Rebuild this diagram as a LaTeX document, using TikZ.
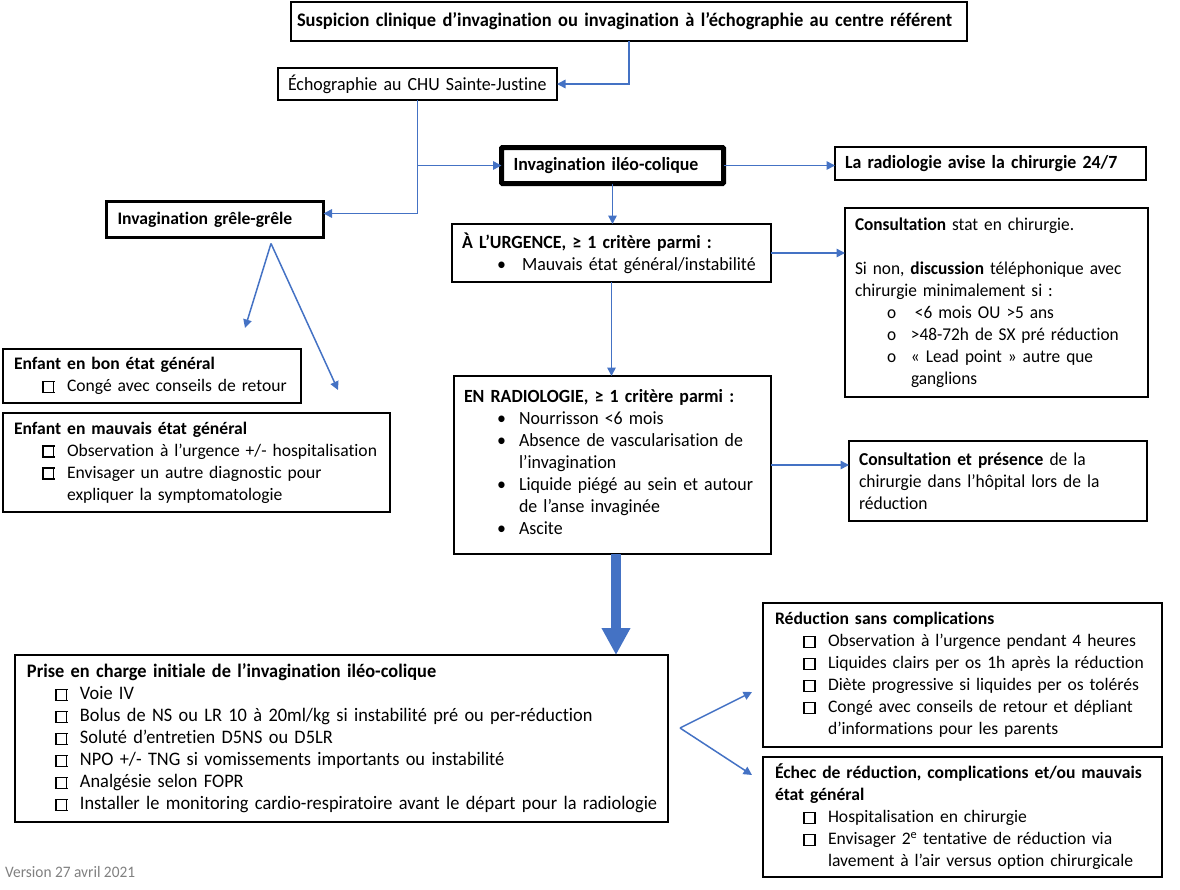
\documentclass[tikz,border=0pt]{standalone}
\usepackage{fontspec}
\setmainfont[Ligatures=NoCommon]{Carlito}
\newfontfamily\narrow[FakeStretch=0.96,Ligatures=NoCommon]{Carlito}
\usetikzlibrary{arrows.meta}
\usetikzlibrary{positioning}
\definecolor{flow}{HTML}{4472C4}

\newcommand{\chkbox}{{\setlength\fboxsep{0pt}\setlength\fboxrule{1.5pt}\fbox{\rule{0pt}{9.5pt}\hspace{9.5pt}}}}
\newcommand{\chk}{\hspace*{28pt}\makebox[25pt][l]{\chkbox}}
\newcommand{\ccont}{\hspace*{53pt}}
\newcommand{\bul}{\hspace*{33pt}\makebox[22pt][l]{\textbullet}}
\newcommand{\bcont}{\hspace*{55pt}}
\newcommand{\sub}{\hspace*{32pt}\makebox[24pt][l]{o}}

\begin{document}
\begin{tikzpicture}[x=1pt,y=-1pt]

\tikzstyle{blk} = [draw, line width=1.1pt, anchor=north west, outer sep=0pt, inner xsep=10pt, inner ysep=0pt, align=left, font=\fontsize{17.6}{22}\selectfont]
\tikzstyle{nblk} = [blk, font=\narrow\fontsize{18.6}{22}\selectfont]
\tikzstyle{arr} = [flow, line width=1.5pt, -{Triangle[length=8.5pt,width=8.5pt]}]

\useasboundingbox (0,0) rectangle (1180,889);

% top of the chart
\node[nblk, font=\narrow\fontsize{19.2}{22}\selectfont, inner xsep=6pt, text width=664pt, minimum height=39pt] (susp) at (291,2)
  {\textbf{Suspicion clinique d’invagination ou invagination à l’échographie au centre référent}};
\node[nblk, text width=259pt, minimum height=32pt] (echo) at (278,68)
  {Échographie au CHU Sainte-Justine};
\node[nblk, line width=5pt, rounded corners=1pt, inner xsep=12pt, text width=198pt, minimum height=36pt] (ileo) at (501.5,147.5)
  {\textbf{Invagination iléo-colique}};
\node[nblk, text width=291pt, minimum height=33pt] (avise) at (835,147)
  {\textbf{La radiologie avise la chirurgie 24/7}};

% small bowel branch
\node[blk, line width=3pt, inner xsep=11pt, text width=195pt, minimum height=36pt] (grele) at (106.5,201.5)
  {\textbf{Invagination grêle-grêle}};
\node[blk, inner xsep=11pt, text width=276pt, minimum height=54pt] (bon) at (3,349)
  {\textbf{Enfant en bon état général}\\
   \chk Congé avec conseils de retour};
\node[blk, inner xsep=11pt, text width=365pt, minimum height=99pt] (mauv) at (3,413)
  {\textbf{Enfant en mauvais état général}\\
   \chk Observation à l’urgence +/- hospitalisation\\
   \chk Envisager un autre diagnostic pour\\
   \ccont expliquer la symptomatologie};

% criteria
\node[nblk, text width=299pt, minimum height=58pt] (urg) at (452,224)
  {\textbf{À L’URGENCE, ≥ 1 critère parmi :}\\
   \hspace*{35pt}\makebox[25pt][l]{\textbullet}Mauvais état général/instabilité};
\node[nblk, font=\narrow\fontsize{18}{22}\selectfont, text width=283pt, minimum height=189pt] (cons) at (845,208)
  {\textbf{Consultation} stat en chirurgie.\\
   \mbox{}\\
   Si non, \textbf{discussion} téléphonique avec\\
   chirurgie minimalement si :\\
   \sub\hspace*{4pt}<6 mois OU >5 ans\\
   \sub >48-72h de SX pré réduction\\
   \sub « Lead point » autre que\\
   \hspace*{56pt}ganglions};
\node[nblk, text width=297pt, minimum height=178pt] (radio) at (454,376)
  {\textbf{EN RADIOLOGIE, ≥ 1 critère parmi :}\\
   \bul Nourrisson <6 mois\\
   \bul Absence de vascularisation de\\
   \bcont l’invagination\\
   \bul Liquide piégé au sein et autour\\
   \bcont de l’anse invaginée\\
   \bul Ascite\\[-16pt]\mbox{}};
\node[nblk, font=\narrow\fontsize{18.2}{22}\selectfont, text width=278pt, minimum height=80pt] (pres) at (849,441)
  {\textbf{Consultation et présence} de la\\
   chirurgie dans l’hôpital lors de la\\
   réduction};

% management
\node[nblk, font=\narrow\fontsize{19.1}{22}\selectfont, inner xsep=12pt, text width=629pt, minimum height=167pt] (prise) at (15,655)
  {\textbf{Prise en charge initiale de l’invagination iléo-colique}\\
   \chk Voie IV\\
   \chk Bolus de NS ou LR 10 à 20ml/kg si instabilité pré ou per-réduction\\
   \chk Soluté d’entretien D5NS ou D5LR\\
   \chk NPO +/- TNG si vomissements importants ou instabilité\\
   \chk Analgésie selon FOPR\\
   \chk \mbox{Installer le monitoring cardio-respiratoire avant le départ pour la radiologie}};
\node[blk, inner xsep=12pt, text width=375pt, minimum height=144pt] (red) at (763,603)
  {\textbf{Réduction sans complications}\\
   \chk Observation à l’urgence pendant 4 heures\\
   \chk Liquides clairs per os 1h après la réduction\\
   \chk Diète progressive si liquides per os tolérés\\
   \chk Congé avec conseils de retour et dépliant\\
   \ccont d’informations pour les parents};
\node[blk, inner xsep=12pt, text width=375pt, minimum height=120pt] (echec) at (763,757)
  {\textbf{Échec de réduction, complications et/ou mauvais}\\
   \textbf{état général}\\
   \chk Hospitalisation en chirurgie\\
   \chk Envisager 2\textsuperscript{e} tentative de réduction via\\
   \ccont lavement à l’air versus option chirurgicale};

\node[anchor=west, inner sep=0pt, text=gray, font=\narrow\fontsize{16}{18}\selectfont] (ver) at (5,872) {Version 27 avril 2021};

% fork points
\coordinate (gfork) at ([xshift=56pt,yshift=-6pt]grele.south);
\coordinate (gbon) at (245,328);
\coordinate (gmauv) at (338,390);
\coordinate (pfork) at (680,728);
\coordinate (pred) at (752,692);
\coordinate (pechec) at (752,775);

% connectors
\draw[arr] (susp.south) |- (echo.east);
\draw[arr] (echo.south) |- (ileo.west);
\draw[arr] (echo.south) |- ([yshift=6pt]grele.east);
\draw[arr] (ileo.east) -- (ileo.east -| avise.west);
\draw[arr] (ileo.south) -- (ileo.south |- urg.north);
\draw[arr] (urg.east) -- (urg.east -| cons.west);
\draw[arr] (urg.south) -- (urg.south |- radio.north);
\draw[arr] (radio.east) -- (radio.east -| pres.west);
\draw[arr] (gfork) -- (gbon);
\draw[arr] (gfork) -- (gmauv);
\draw[arr] (pfork) -- (pred);
\draw[arr] (pfork) -- (pechec);
\draw[flow, line width=10pt, -{Triangle[length=27pt,width=27pt]}] ([xshift=3.5pt]radio.south) -- ([xshift=3.5pt]radio.south |- prise.north);

\end{tikzpicture}
\end{document}
